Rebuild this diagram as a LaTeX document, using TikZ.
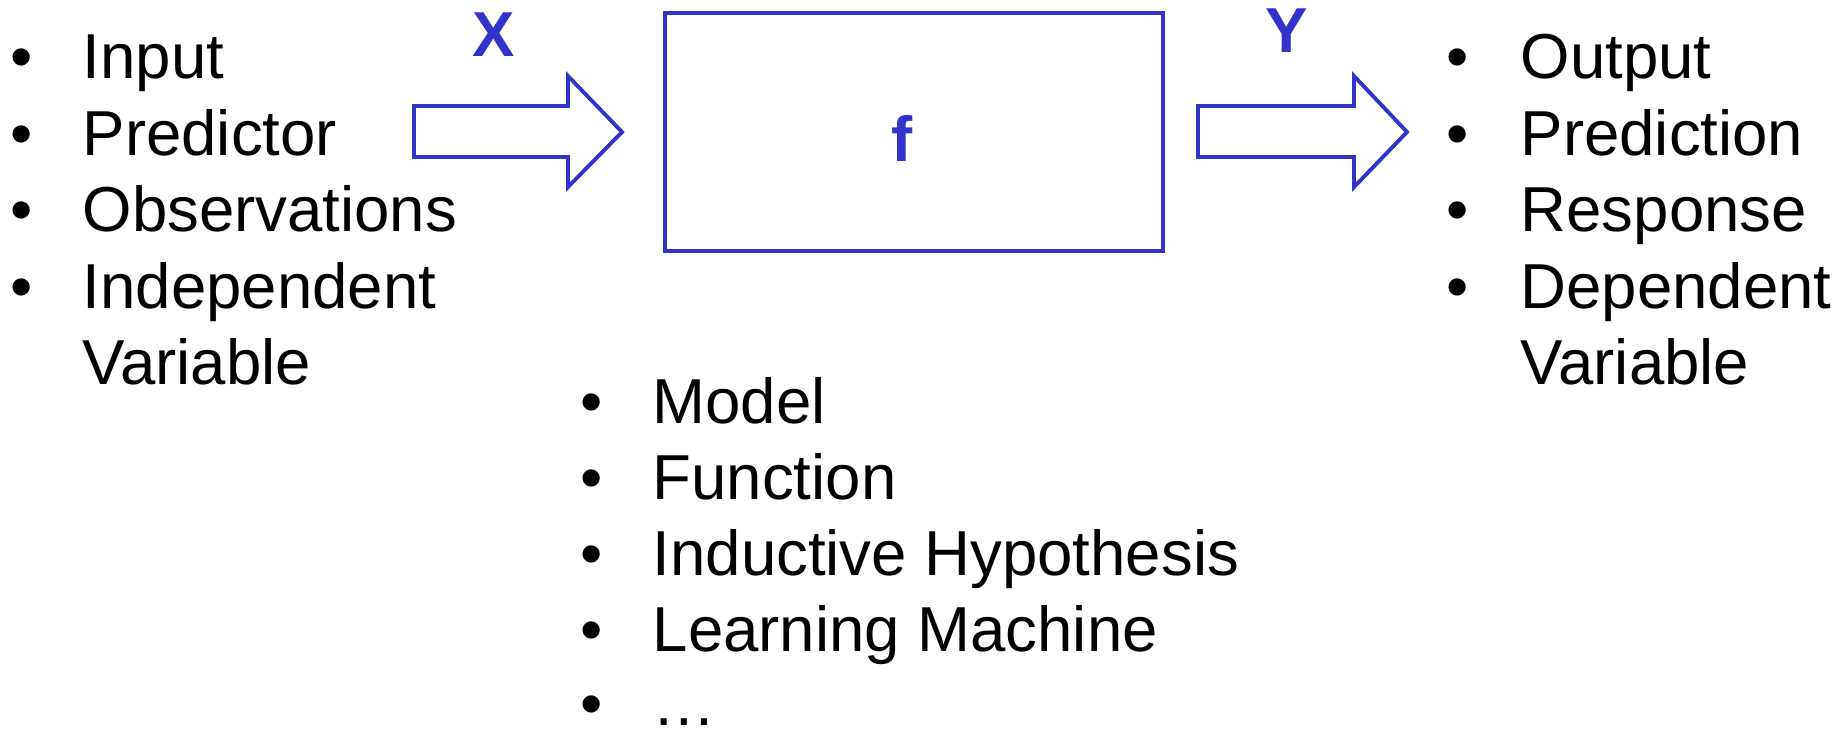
\documentclass[tikz,border=0pt]{standalone}
\usepackage{fontspec}
\setmainfont{Liberation Sans}
\usetikzlibrary{positioning}
\definecolor{fblue}{RGB}{51,51,204}
\tikzset{
  itemtext/.style={font=\fontsize{18.07pt}{21.7pt}\selectfont,anchor=base west,inner sep=0pt},
  varlabel/.style={font=\fontsize{18.07pt}{21.7pt}\selectfont\bfseries,text=fblue,anchor=base,inner sep=0pt},
  blockarrow/.style={draw=fblue,line width=1.1pt,line join=miter},
}

\begin{document}
\begin{tikzpicture}[x=0.01cm,y=-0.01cm]
\useasboundingbox (0,0) rectangle (1846,732);

\node[draw=fblue,line width=1.3pt,minimum width=4.98cm,minimum height=2.38cm,inner sep=0pt] (model) at (914,132) {};
\node[varlabel] (fname) at (902,161) {f};

\draw[blockarrow] (414,106) -- (568,106) -- (568,76) -- (622,132) -- (568,187) -- (568,157) -- (414,157) -- cycle;
\draw[blockarrow] (1198,106) -- (1354,106) -- (1354,76) -- (1407,132) -- (1354,187) -- (1354,157) -- (1198,157) -- cycle;
\node[varlabel] (xlab) at (494,56) {X};
\node[varlabel] (ylab) at (1287,52) {Y};

% inputs
\node[itemtext] (inb1) at (10,78) {•};
\node[itemtext] (in1) at (82,78) {Input};
\node[itemtext] (inb2) at (10,155) {•};
\node[itemtext] (in2) at (82,155) {Predictor};
\node[itemtext] (inb3) at (10,231) {•};
\node[itemtext] (in3) at (82,231) {Observations};
\node[itemtext] (inb4) at (10,308) {•};
\node[itemtext] (in4) at (82,308) {Independent};
\node[itemtext] (in5) at (82,384) {Variable};

% outputs
\node[itemtext] (outb1) at (1446,78) {•};
\node[itemtext] (out1) at (1520,78) {Output};
\node[itemtext] (outb2) at (1446,155) {•};
\node[itemtext] (out2) at (1520,155) {Prediction};
\node[itemtext] (outb3) at (1446,231) {•};
\node[itemtext] (out3) at (1520,231) {Response};
\node[itemtext] (outb4) at (1446,308) {•};
\node[itemtext] (out4) at (1520,308) {Dependent};
\node[itemtext] (out5) at (1520,384) {Variable};

% names for f
\node[itemtext] (fb1) at (580,423) {•};
\node[itemtext] (f1) at (652,423) {Model};
\node[itemtext] (fb2) at (580,499) {•};
\node[itemtext] (f2) at (652,499) {Function};
\node[itemtext] (fb3) at (580,575) {•};
\node[itemtext] (f3) at (652,575) {Inductive Hypothesis};
\node[itemtext] (fb4) at (580,651) {•};
\node[itemtext] (f4) at (652,651) {Learning Machine};
\node[itemtext] (fb5) at (580,725) {•};
\node[itemtext] (f5) at (652,725) {…};
\end{tikzpicture}
\end{document}
